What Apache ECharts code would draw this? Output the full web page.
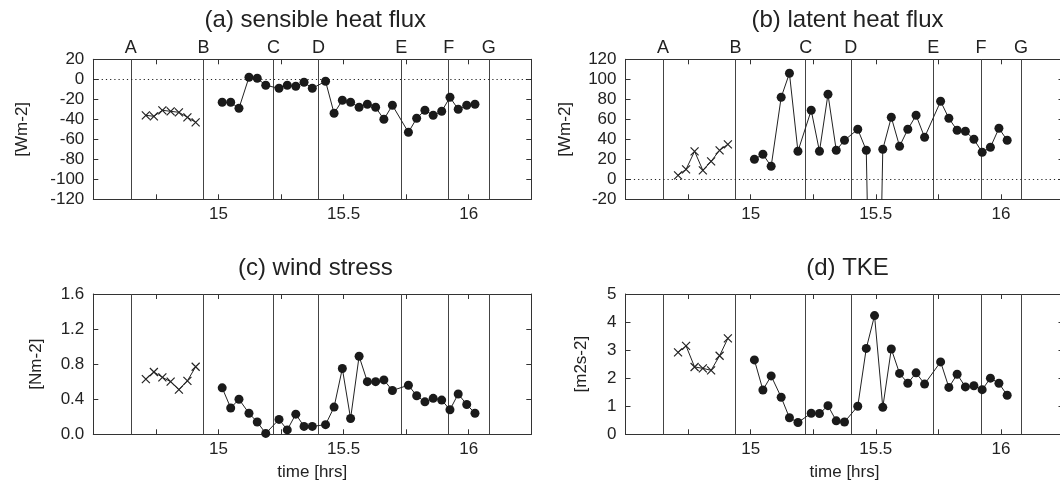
<!DOCTYPE html>
<html>
<head>
<meta charset="utf-8">
<script src="https://cdn.jsdelivr.net/npm/echarts@6/dist/echarts.min.js"></script>
<style>
html,body{margin:0;padding:0;background:#fff;}
#chart{width:1060px;height:484px;}
</style>
</head>
<body>
<div id="chart"></div>
<script>
// ---- data ----
const panelTitles = ['(a) sensible heat flux', '(b) latent heat flux', '(c) wind stress', '(d) TKE'];
const yNames = ['[Wm-2]', '[Wm-2]', '[Nm-2]', '[m2s-2]'];
const eventLabels = ['A', 'B', 'C', 'D', 'E', 'F', 'G'];
const eventTimes = [14.647, 14.943, 15.219, 15.399, 15.728, 15.918, 16.078];
const xTickLabels = [15, 15.5, 16];

const crossTimes = [14.71, 14.742, 14.776, 14.809, 14.842, 14.876, 14.909];
const dotTimes = [15.015, 15.049, 15.082, 15.122, 15.155, 15.189, 15.242, 15.275, 15.309, 15.342,
  15.375, 15.428, 15.462, 15.495, 15.528, 15.562, 15.595, 15.628, 15.661, 15.695,
  15.759, 15.792, 15.825, 15.858, 15.892, 15.925, 15.958, 15.992, 16.025];

const sensibleCross = [-36, -37, -31, -32, -33, -38, -43];
const sensibleDots = [-23, -23, -29, 2, 1, -6, -9, -6, -7, -3, -9, -2, -34, -21, -23, -28, -25, -28, -40, -26,
  -53, -39, -31, -36, -32, -18, -30, -26, -25];

const latentCross = [4, 10, 28, 9, 18, 29, 35];
const latentDots = [20, 25, 13, 82, 106, 28, 69, 28, 85, 29, 39, 50, 29, -400, 30, 62, 33, 50, 64, 42,
  78, 61, 49, 48, 40, 27, 32, 51, 39];

const stressCross = [0.63, 0.71, 0.65, 0.60, 0.51, 0.61, 0.77];
const stressDots = [0.53, 0.30, 0.40, 0.24, 0.14, 0.01, 0.17, 0.05, 0.23, 0.09, 0.09, 0.11, 0.31, 0.75, 0.18,
  0.89, 0.60, 0.60, 0.62, 0.50, 0.56, 0.44, 0.37, 0.41, 0.39, 0.28, 0.46, 0.34, 0.24];

const tkeCross = [2.92, 3.15, 2.40, 2.35, 2.28, 2.80, 3.42];
const tkeDots = [2.65, 1.58, 2.08, 1.32, 0.59, 0.42, 0.75, 0.74, 1.02, 0.48, 0.44, 1.00, 3.06, 4.23, 0.96,
  3.04, 2.17, 1.82, 2.19, 1.79, 2.58, 1.67, 2.14, 1.69, 1.73, 1.59, 2.00, 1.82, 1.39];

const yMin = [-120, -20, 0, 0];
const yMax = [20, 120, 1.6, 5];
const yStep = [20, 20, 0.4, 1];

// ---- layout / styling ----
const FONT = '"Liberation Sans", Arial, Helvetica, sans-serif';
const INK = '#222';
const FRAME = '#333';
const FS = 17;
const grids = [
  {left: 93.3, top: 59.3, width: 438, height: 140},
  {left: 625.5, top: 59.3, width: 438, height: 140},
  {left: 93.3, top: 294, width: 438, height: 140.3},
  {left: 625.5, top: 294, width: 438, height: 140.3}
];
const titleTops = [3, 3, 251, 251];
const nameGaps = [62, 52, 48, 36];
const crossSeries = [sensibleCross, latentCross, stressCross, tkeCross];
const dotSeries = [sensibleDots, latentDots, stressDots, tkeDots];

const zip = (xs, ys) => xs.map((x, i) => [x, ys[i]]);
const isTickLabel = v => xTickLabels.some(t => Math.abs(t - v) < 1e-6);

const option = {
  animation: false,
  backgroundColor: '#fff',
  textStyle: {fontFamily: FONT, color: INK},
  title: panelTitles.map((t, i) => ({
    text: t,
    left: grids[i].left + grids[i].width / 2 - 2,
    top: titleTops[i],
    textAlign: 'center',
    textStyle: {fontSize: 24, fontWeight: 'normal', color: INK, fontFamily: FONT}
  })),
  grid: grids.map(g => Object.assign({containLabel: false, outerBoundsMode: 'none'}, g)),
  xAxis: [],
  yAxis: [],
  series: []
};

for (let p = 0; p < 4; p++) {
  const common = {
    type: 'value', gridIndex: p, min: 14.5, max: 16.25, interval: 0.25,
    splitLine: {show: false},
    axisLine: {show: true, onZero: false, lineStyle: {color: FRAME, width: 1}},
    axisTick: {show: true, inside: true, length: 5, lineStyle: {color: FRAME}}
  };
  option.xAxis.push(Object.assign({}, common, {
    position: 'bottom',
    axisLabel: {
      show: true, fontSize: FS, color: INK, margin: 7, fontFamily: FONT,
      formatter: v => isTickLabel(v) ? String(v) : ''
    },
    name: p >= 2 ? 'time [hrs]' : '',
    nameLocation: 'middle', nameGap: 30,
    nameTextStyle: {fontSize: FS, color: INK, fontFamily: FONT}
  }));
  option.xAxis.push(Object.assign({}, common, {
    position: 'top', axisLabel: {show: false}
  }));
  const ycommon = {
    type: 'value', gridIndex: p, min: yMin[p], max: yMax[p], interval: yStep[p],
    splitLine: {show: false},
    axisLine: {show: true, onZero: false, lineStyle: {color: FRAME, width: 1}},
    axisTick: {show: true, inside: true, length: 5, lineStyle: {color: FRAME}}
  };
  option.yAxis.push(Object.assign({}, ycommon, {
    position: 'left',
    axisLabel: {
      fontSize: FS, color: INK, margin: 9, fontFamily: FONT,
      formatter: v => p === 2 ? v.toFixed(1) : String(v)
    },
    name: yNames[p], nameLocation: 'middle', nameRotate: 90, nameGap: nameGaps[p],
    nameTextStyle: {fontSize: FS, color: INK, fontFamily: FONT}
  }));
  option.yAxis.push(Object.assign({}, ycommon, {
    position: 'right', axisLabel: {show: false}
  }));

  const markData = eventTimes.map((t, i) => ({
    xAxis: t,
    label: {
      show: p < 2, position: 'end', formatter: eventLabels[i], distance: 2,
      fontSize: 18, color: INK, fontFamily: FONT
    },
    lineStyle: {type: 'solid', color: '#444', width: 1}
  }));
  if (p < 2) {
    markData.push({yAxis: 0, label: {show: false},
      lineStyle: {type: [1.2, 3], color: INK, width: 1.2}});
  }

  option.series.push({
    type: 'line', xAxisIndex: 2 * p, yAxisIndex: 2 * p,
    data: zip(crossTimes, crossSeries[p]),
    symbol: 'path://M0,0L10,10M10,0L0,10', symbolSize: 8,
    itemStyle: {color: INK, borderColor: INK, borderWidth: 1.2},
    lineStyle: {color: INK, width: 1},
    clip: true, z: 3
  });
  option.series.push({
    type: 'line', xAxisIndex: 2 * p, yAxisIndex: 2 * p,
    data: zip(dotTimes, dotSeries[p]),
    symbol: 'circle', symbolSize: 9,
    itemStyle: {color: '#1a1a1a'},
    lineStyle: {color: INK, width: 1},
    clip: true, z: 3,
    markLine: {silent: true, symbol: 'none', animation: false, z: 1, data: markData}
  });
}

const chart = echarts.init(document.getElementById('chart'), null, {renderer: 'canvas'});
chart.setOption(option);
</script>
</body>
</html>
